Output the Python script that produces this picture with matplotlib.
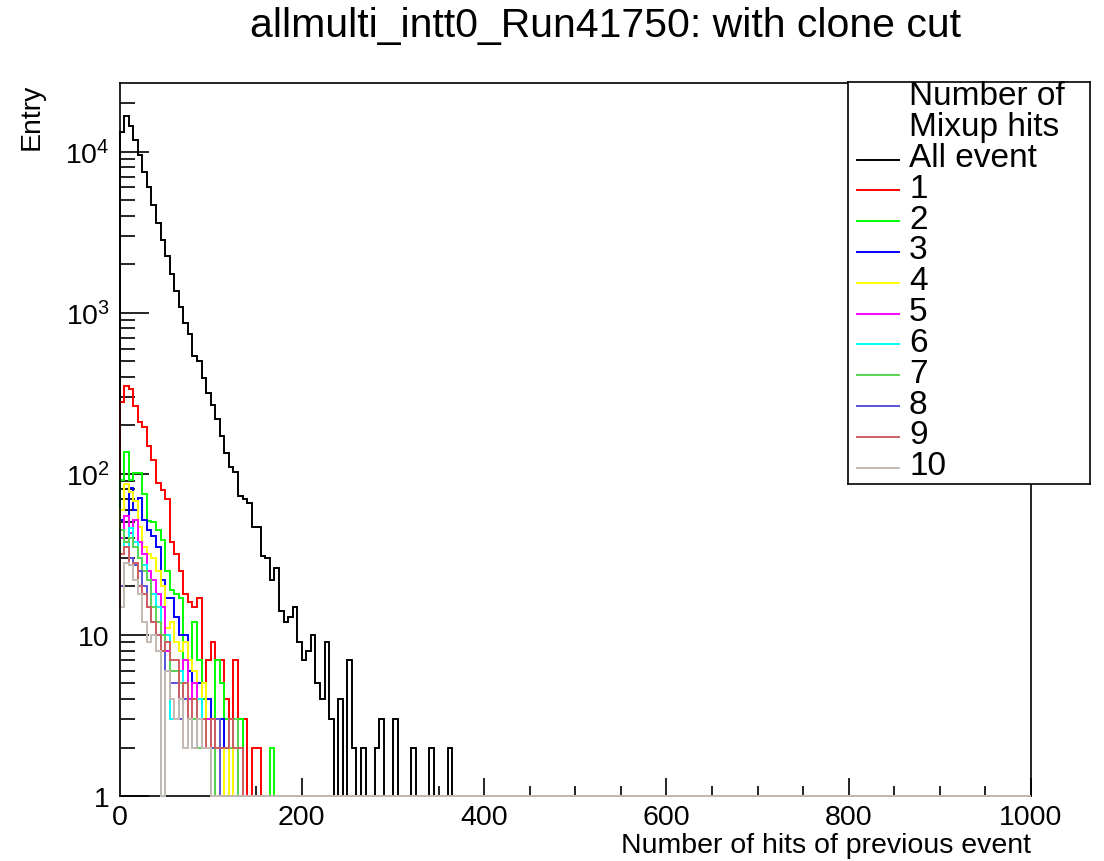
import numpy as np
import matplotlib
matplotlib.use("Agg")
import matplotlib.pyplot as plt
from matplotlib.lines import Line2D

plt.rcParams["font.family"] = ["Liberation Sans", "DejaVu Sans"]

# Histogram binning: 200 bins of width 5 over [0, 1000]
nbins = 200
edges = np.linspace(0, 1000, nbins + 1)

# Bin contents (leading bins; the remaining bins are empty)
all_event = [13200, 16600, 14400, 11800, 9550, 7450, 6060, 4670, 3590, 2840,
             2260, 1740, 1360, 1090, 863, 738, 541, 503, 393, 317,
             267, 219, 172, 134, 110, 102, 73, 70, 66, 47,
             47, 31, 30, 22, 26, 14, 12, 13, 15, 9,
             7, 8, 10, 5, 4, 9, 3, 0, 4, 0,
             7, 2, 0, 2, 0, 0, 2, 3, 0, 0,
             3, 0, 0, 0, 2, 0, 0, 0, 2, 0,
             0, 0, 2]
mix1 = [278, 349, 336, 262, 209, 194, 149, 122, 88, 79, 70, 38, 32, 25, 18, 16,
        15, 17, 4, 7, 9, 7, 7, 4, 3, 7, 3, 3, 1, 2, 2]
mix2 = [92, 136, 92, 101, 101, 75, 51, 50, 45, 39, 25, 19, 18, 17, 7, 7, 12, 7,
        4, 4, 1, 7, 5, 3, 1, 1, 3, 1, 1, 1, 1, 1, 1, 2]
mix3 = [52, 55, 82, 60, 71, 52, 45, 41, 35, 22, 17, 17, 13, 10, 10, 6, 4, 5, 3,
        4, 3, 2, 3, 2, 3]
mix4 = [60, 86, 77, 68, 47, 35, 32, 30, 25, 20, 11, 12, 9, 8, 9, 7, 6, 4, 5, 3,
        2, 3, 2, 1, 2]
mix5 = [40, 55, 43, 52, 38, 32, 25, 22, 18, 15, 8, 6, 6, 6, 7, 4, 5, 3, 2, 3, 2, 2]
mix6 = [45, 35, 46, 38, 30, 27, 22, 18, 15, 1, 10, 3, 3, 6, 4, 3, 2, 4, 3, 2]
mix7 = [45, 38, 40, 35, 30, 25, 22, 15, 12, 10, 9, 6, 6, 5, 4, 3, 3, 2, 3, 2, 2,
        1, 2, 2, 2, 3]
mix8 = [20, 28, 30, 27, 25, 20, 15, 12, 10, 8, 6, 5, 5, 3, 4, 3, 2, 3, 2, 2, 2, 3]
mix9 = [32, 35, 27, 28, 20, 18, 15, 12, 10, 8, 9, 7, 7, 4, 5, 3, 4, 3, 3, 2, 3,
        2, 2, 2, 3, 2, 2]
mix10 = [15, 28, 27, 22, 18, 12, 9, 10, 8, 1, 6, 4, 3, 4, 2, 3, 2, 3, 2, 2]

labels = ["All event", "1", "2", "3", "4", "5", "6", "7", "8", "9", "10"]
colors = ["black", "#ff0000", "#00ff00", "#0000ff", "#ffff00", "#ff00ff",
          "#00ffff", "#59d454", "#5954d9", "#cf5e61", "#c4bab2"]
series = [all_event, mix1, mix2, mix3, mix4, mix5, mix6, mix7, mix8, mix9, mix10]

W, H = 1104, 862
fig = plt.figure(figsize=(W / 100, H / 100), dpi=100)
ax = fig.add_axes([119.5 / W, 1 - 797 / H, (1031 - 119.5) / W, (797 - 84) / H])

for counts, col in zip(series, colors):
    vals = np.zeros(nbins)
    vals[:len(counts)] = counts
    # empty bins sit on the axis floor on a log scale
    ax.stairs(np.maximum(vals, 1), edges, baseline=1, color=col, lw=1.4,
              clip_on=False, zorder=3)

ax.set_yscale("log")
ax.set_xlim(0, 1000)
ax.set_ylim(1, 2.67e4)

# ticks pointing inward
ax.set_xticks([0, 200, 400, 600, 800, 1000])
ax.set_xticks(np.arange(0, 1001, 50), minor=True)
ax.set_yticks([1, 10, 100, 1000, 10000])
ax.set_yticklabels(["1", "10", r"$\mathregular{10^{2}}$",
                    r"$\mathregular{10^{3}}$", r"$\mathregular{10^{4}}$"])
ax.tick_params(axis="both", which="both", direction="in", top=False, right=False,
               labelsize=20.5, width=1.2)
ax.tick_params(axis="x", which="major", length=13, pad=6)
ax.tick_params(axis="x", which="minor", length=7)
ax.tick_params(axis="y", which="major", length=21, pad=7)
ax.tick_params(axis="y", which="minor", length=11)
for sp in ax.spines.values():
    sp.set_linewidth(1.2)
ax.spines["left"].set_zorder(5)

ax.set_xlabel("Number of hits of previous event", fontsize=20.5, loc="right")
ax.xaxis.set_label_coords(1.0, -0.05)
ax.set_ylabel("Entry", fontsize=20.5, loc="top")
ax.yaxis.set_label_coords(-0.082, 1.0)

fig.text(605 / W, 1 - 37 / H, "allmulti_intt0_Run41750: with clone cut",
         fontsize=29.5, ha="center", va="baseline")

# legend box
lx0, lx1, ly0, ly1 = 848, 1090, 83, 485
lax = fig.add_axes([lx0 / W, 1 - ly1 / H, (lx1 - lx0) / W, (ly1 - ly0) / H])
lax.set_xlim(lx0, lx1)
lax.set_ylim(ly1, ly0)
lax.set_xticks([])
lax.set_yticks([])
for sp in lax.spines.values():
    sp.set_linewidth(1.2)

rows = ["Number of", "Mixup hits"] + labels
for i, txt in enumerate(rows):
    yc = 95 + 30.8 * i
    lax.text(909, yc + 10.5, txt, fontsize=24, ha="left", va="baseline")
    if i >= 2:
        lax.add_line(Line2D([857, 899], [yc + 4, yc + 4], color=colors[i - 2], lw=1.4))

fig.savefig("out.png", dpi=100)
